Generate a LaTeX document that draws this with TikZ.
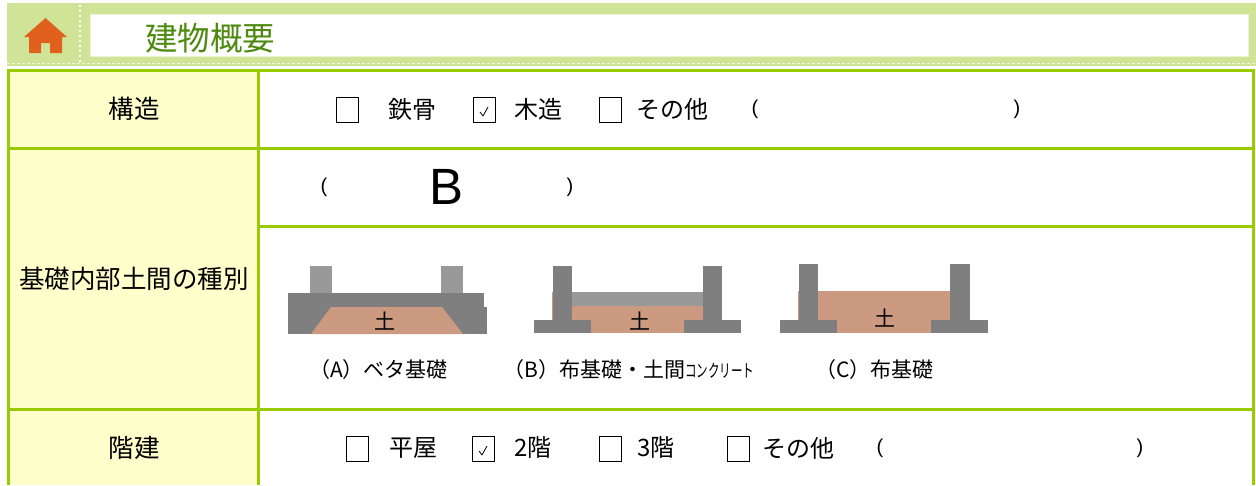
\documentclass[tikz,border=0pt]{standalone}
\usepackage{fontspec}
\setmainfont{Liberation Sans}
\newfontfamily\jp{Noto Sans CJK JP}
\definecolor{gridgreen}{HTML}{99CC00}
\definecolor{bandgreen}{HTML}{CFE496}
\definecolor{titlegreen}{HTML}{4F8A10}
\definecolor{houseorange}{HTML}{E0601E}
\definecolor{celly}{HTML}{FFFFCC}
\definecolor{darkg}{HTML}{7F7F7F}
\definecolor{lightg}{HTML}{999999}
\definecolor{soil}{HTML}{CC9A80}
\tikzset{
  gridline/.style={draw=gridgreen, line width=3pt},
  lbl/.style={font=\jp\fontsize{25.5}{25.5}\selectfont, inner sep=0pt},
  txt/.style={font=\jp\fontsize{24}{24}\selectfont, inner sep=0pt, anchor=west},
  paren/.style={font=\fontsize{20}{20}\selectfont, inner sep=0pt},
  cbox/.style={draw=black, line width=0.9pt, minimum width=22pt, minimum height=25pt, inner sep=0pt},
  capt/.style={font=\jp\fontsize{21}{21}\selectfont, inner sep=0pt, anchor=west},
  soiltxt/.style={font=\jp\fontsize{21}{21}\selectfont, inner sep=0pt},
  chk/.style={draw=black, line width=0.8pt, line join=round},
}
\begin{document}
\begin{tikzpicture}[x=1pt,y=-1pt]
\useasboundingbox (0,0) rectangle (1256,485);
\fill[white] (0,0) rectangle (1256,485);
% header band
\fill[bandgreen] (7,3) rectangle (1256,66);
\fill[white] (90,14) rectangle (1249,57);
\draw[color=bandgreen!40!white, line width=1.5pt] (90.5,14.5) rectangle (1248.5,56.5);
\draw[white, line width=2pt, dash pattern=on 2pt off 3pt] (80,5) -- (80,64);
\draw[white!70!bandgreen, line width=1.2pt, dash pattern=on 3pt off 2pt] (7,63.5) -- (1256,63.5);
% house icon
\fill[houseorange] (45.5,18) -- (67,37) -- (62,37) -- (62,53) -- (50,53) -- (50,43) -- (41,43) -- (41,53) -- (29,53) -- (29,37) -- (24,37) -- cycle;
\node[font=\jp\fontsize{32.5}{32.5}\selectfont, text=titlegreen, anchor=west, inner sep=0pt] (title) at (145,38) {建物概要};
% table fills
\fill[celly] (8,70) rectangle (258,485);
% grid
\draw[gridline] (8,70) -- (1253.5,70);
\draw[gridline] (8,68.5) -- (8,485);
\draw[gridline] (258,70) -- (258,485);
\draw[gridline] (1253.5,68.5) -- (1253.5,485);
\draw[gridline] (8,148) -- (1253.5,148);
\draw[gridline] (258,226) -- (1253.5,226);
\draw[gridline] (8,409) -- (1253.5,409);
% left labels
\node[lbl] (l1) at (134,109) {構造};
\node[lbl] (l2) at (134,279) {基礎内部土間の種別};
\node[lbl] (l3) at (134,448) {階建};
% row 1
\node[cbox] (a1) at (347.5,110) {};
\node[txt] (t1) at (388,109) {鉄骨};
\node[cbox] (a2) at (484,110) {};
\draw[chk] ([shift={(-4,2)}]a2.center) -- ([shift={(-1,6)}]a2.center) -- ([shift={(4,-3)}]a2.center);
\node[txt] (t2) at (514,109) {木造};
\node[cbox] (a3) at (610,110) {};
\node[txt] (t3) at (636,109) {その他};
\node[paren] (p1) at (755,109) {(};
\node[paren] (p2) at (1017,109) {)};
% row 2a
\node[paren] (p3) at (324,187) {(};
\node[font=\fontsize{51}{51}\selectfont, inner sep=0pt] (bb) at (447,187) {B};
\node[paren] (p4) at (570,187) {)};
% diagram A
\fill[lightg] (310,266) rectangle (332,293);
\fill[lightg] (441,266) rectangle (463,293);
\fill[darkg] (288,293) rectangle (484,307);
\fill[darkg] (288,307) rectangle (487,334);
\fill[soil] (331,307) -- (442,307) -- (463,334) -- (311,334) -- cycle;
\node[soiltxt] (sa) at (385,321) {土};
\node[capt] (ca) at (309,370) {（A）ベタ基礎};
% diagram B
\fill[soil] (552,292) rectangle (703,333);
\fill[darkg] (553,266) rectangle (572,333);
\fill[darkg] (703,266) rectangle (722,333);
\fill[darkg] (534,320) rectangle (591,333);
\fill[darkg] (684,320) rectangle (741,333);
\fill[lightg] (572,292) rectangle (703,306);
\node[soiltxt] (sb) at (640,321) {土};
\node[capt] (cb) at (503,370) {（B）布基礎・土間\scalebox{0.55}[0.85]{コンクリート}};
% diagram C
\fill[soil] (798,291) rectangle (950,333);
\fill[darkg] (799,264) rectangle (818,333);
\fill[darkg] (950,264) rectangle (970,333);
\fill[darkg] (780,320) rectangle (837,333);
\fill[darkg] (931,320) rectangle (988,333);
\node[soiltxt] (sc) at (885,318) {土};
\node[capt] (cc) at (815,370) {（C）布基礎};
% row 3
\node[cbox] (b1) at (357.5,449) {};
\node[txt] (u1) at (389,448) {平屋};
\node[cbox] (b2) at (483,449) {};
\draw[chk] ([shift={(-4,2)}]b2.center) -- ([shift={(-1,6)}]b2.center) -- ([shift={(4,-3)}]b2.center);
\node[txt] (u2) at (514,448) {2階};
\node[cbox] (b3) at (610,449) {};
\node[txt] (u3) at (637,448) {3階};
\node[cbox] (b4) at (738,449) {};
\node[txt] (u4) at (762,448) {その他};
\node[paren] (p5) at (880,448) {(};
\node[paren] (p6) at (1140,448) {)};
\end{tikzpicture}
\end{document}
